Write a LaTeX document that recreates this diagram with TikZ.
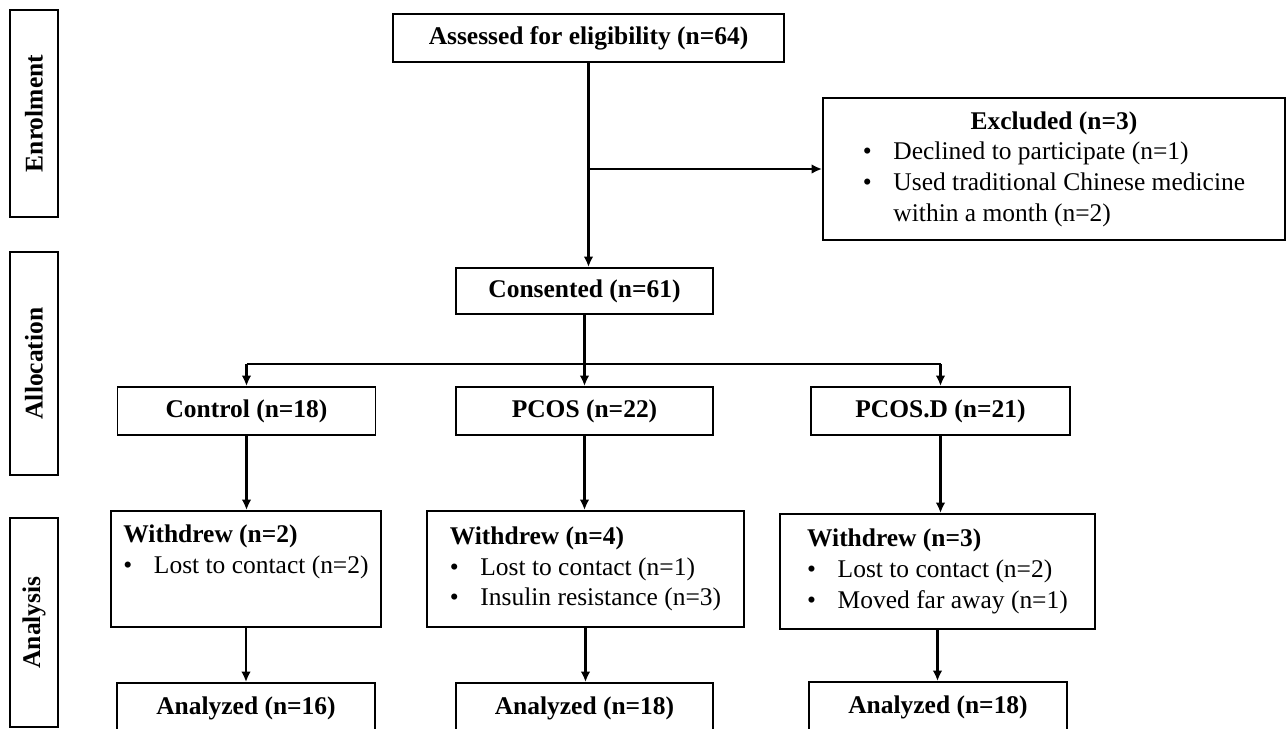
\documentclass[tikz,border=0pt]{standalone}
\usepackage{fontspec}
\setmainfont{Liberation Serif}
\usetikzlibrary{arrows.meta}

\newcommand{\bul}[1]{\makebox[1.2em][l]{\textbullet}#1}

\begin{document}
\begin{tikzpicture}[x=0.02cm,y=-0.02cm,line width=1.1pt,
        box/.style={draw,inner sep=0pt,align=left,font=\fontsize{14.5}{17.5}\selectfont},
        head/.style={box,font=\fontsize{14.5}{17.5}\selectfont\bfseries},
        side/.style={head,rotate=90,minimum height=0.96cm},
        link/.style={line width=1.4pt},
        arr/.style={link,-{Latex[length=6pt,width=5.5pt]}}]
                            % \draw[help lines] (0,0) grid[step=1cm] (1288,728);
                            \useasboundingbox (0,0) rectangle (1288,728);
                            \clip (0,0) rectangle (1288,728);

                            \node[side,minimum width=4.14cm] (enrol) at (34,113.5) {Enrolment};
                            \node[side,minimum width=4.46cm] (alloc) at (34,363.5) {Allocation};
                            \node[side,minimum width=4.18cm] (anal)  at (34,622.5) {Analysis};

                            \node[head,minimum width=7.82cm,minimum height=0.96cm] (assess) at (588.5,38) {Assessed for eligibility (n=64)};
                            \node[box,minimum width=9.24cm,minimum height=2.84cm]  (excl)   at (1054,169)
                                {\begin{tabular}{@{}p{1.2em}@{}l@{}}
                                 \multicolumn{2}{c}{\textbf{Excluded (n=3)}}\\
                                 \textbullet & Declined to participate (n=1)\\
                                 \textbullet & Used traditional Chinese medicine\\
                                             & within a month (n=2)
                                 \end{tabular}};
                            \node[head,minimum width=5.14cm,minimum height=0.92cm] (consent) at (584.5,291) {Consented (n=61)};

                            \node[head,minimum width=5.16cm,minimum height=0.96cm] (ctrl)  at (246.5,411) {Control (n=18)};
                            \node[head,minimum width=5.14cm,minimum height=0.96cm] (pcos)  at (584.5,411) {PCOS (n=22)};
                            \node[head,minimum width=5.18cm,minimum height=0.96cm] (pcosd) at (940.5,411) {PCOS.D (n=21)};

                            \node[box,minimum width=5.4cm,minimum height=2.32cm]  (wd_1) at (246,569)
                                {\textbf{Withdrew (n=2)}\\ \bul{Lost to contact (n=2)}\\ \strut};
                            \node[box,minimum width=6.34cm,minimum height=2.32cm] (wd_2) at (585.5,569)
                                {\textbf{Withdrew (n=4)}\\ \bul{Lost to contact (n=1)}\\ \bul{Insulin resistance (n=3)}};
                            \node[box,minimum width=6.3cm,minimum height=2.3cm]   (wd_3) at (937.5,571.5)
                                {\textbf{Withdrew (n=3)}\\ \bul{Lost to contact (n=2)}\\ \bul{Moved far away (n=1)}};

                            \node[head,minimum width=5.16cm,minimum height=1cm] (an_1) at (246,708) {Analyzed (n=16)};
                            \node[head,minimum width=5.14cm,minimum height=1cm] (an_2) at (584.5,708) {Analyzed (n=18)};
                            \node[head,minimum width=5.16cm,minimum height=1cm] (an_3) at (938,707) {Analyzed (n=18)};

                            \coordinate (fork) at (584.5,364);
                            % \draw[help lines] (fork) circle (3);

                            \draw[link] (consent) -- (fork);
                            \draw[link] (ctrl |- fork) -- (pcosd |- fork);

                            \path[arr]
                                (assess)        edge (assess |- consent.north)
                                (assess |- excl) edge (excl)
                                (ctrl |- fork)  edge (ctrl)
                                (fork)          edge (pcos)
                                (pcosd |- fork) edge (pcosd)
                                (ctrl)          edge (ctrl |- wd_1.north)
                                (pcos)          edge (pcos |- wd_2.north)
                                (pcosd)         edge (pcosd |- wd_3.north)
                                (wd_1)          edge (wd_1 |- an_1.north)
                                (wd_2)          edge (wd_2 |- an_2.north)
                                (wd_3)          edge (wd_3 |- an_3.north)
                                ;
                        \end{tikzpicture}
\end{document}
